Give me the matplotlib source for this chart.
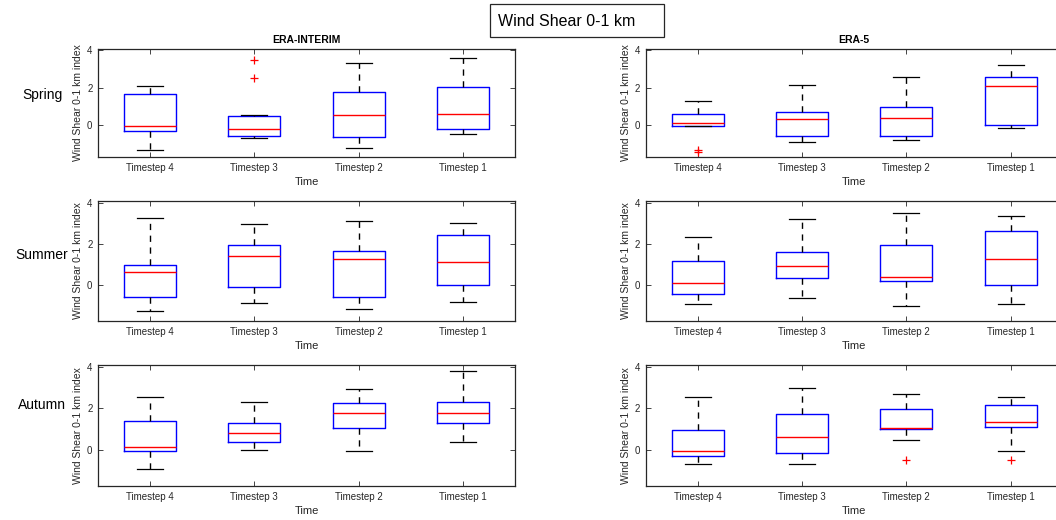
import matplotlib
matplotlib.use("Agg")
import matplotlib.pyplot as plt
from matplotlib.patches import Rectangle

plt.rcParams['font.family'] = ['Liberation Sans', 'DejaVu Sans']

timesteps = ["Timestep 4", "Timestep 3", "Timestep 2", "Timestep 1"]
seasons = ["Spring", "Summer", "Autumn"]
datasets = ["ERA-INTERIM", "ERA-5"]

# rows: lower whisker, Q1, median, Q3, upper whisker (one value per timestep)
spring_interim = [[-1.36, -0.68, -1.25, -0.50],
                  [-0.32, -0.57, -0.66, -0.20],
                  [-0.05, -0.20, 0.55, 0.59],
                  [1.68, 0.46, 1.75, 2.04],
                  [2.09, 0.54, 3.32, 3.57]]
spring_interim_out = [[], [3.50, 2.54], [], []]

spring_era5 = [[-0.05, -0.91, -0.79, -0.18],
               [-0.05, -0.59, -0.57, 0.00],
               [0.12, 0.32, 0.39, 2.07],
               [0.61, 0.71, 0.96, 2.55],
               [1.30, 2.16, 2.55, 3.23]]
spring_era5_out = [[-1.36, -1.45], [], [], []]

summer_interim = [[-1.24, -0.83, -1.12, -0.78],
                  [-0.57, -0.10, -0.55, 0.00],
                  [0.67, 1.41, 1.30, 1.14],
                  [1.01, 1.97, 1.64, 2.42],
                  [3.24, 2.96, 3.12, 3.02]]
summer_interim_out = [[], [], [], []]

summer_era5 = [[-0.91, -0.60, -1.01, -0.88],
               [-0.41, 0.34, 0.21, 0.00],
               [0.10, 0.96, 0.41, 1.27],
               [1.19, 1.63, 1.93, 2.65],
               [2.33, 3.22, 3.48, 3.35]]
summer_era5_out = [[], [], [], []]

autumn_interim = [[-0.91, 0.00, -0.02, 0.38],
                  [-0.02, 0.37, 1.08, 1.32],
                  [0.13, 0.80, 1.80, 1.80],
                  [1.40, 1.31, 2.25, 2.33],
                  [2.55, 2.33, 2.92, 3.81]]
autumn_interim_out = [[], [], [], []]

autumn_era5 = [[-0.67, -0.67, 0.49, -0.03],
               [-0.30, -0.14, 1.02, 1.10],
               [-0.05, 0.61, 1.07, 1.37],
               [0.96, 1.71, 1.99, 2.14],
               [2.55, 2.96, 2.68, 2.55]]
autumn_era5_out = [[], [], [-0.49], [-0.49]]

panels = [[(spring_interim, spring_interim_out), (spring_era5, spring_era5_out)],
          [(summer_interim, summer_interim_out), (summer_era5, summer_era5_out)],
          [(autumn_interim, autumn_interim_out), (autumn_era5, autumn_era5_out)]]

W, H = 1056, 520
fig = plt.figure(figsize=(W / 100, H / 100), dpi=100)

col_x = [98, 645.7]
col_w = 417
row_tb = [(49, 157), (201, 321), (365, 486)]
row_label_y = [95, 255, 405]
axcol = '#262626'

for r in range(3):
    top, bot = row_tb[r]
    for c in range(2):
        ax = fig.add_axes([col_x[c] / W, 1 - bot / H, col_w / W, (bot - top) / H])
        stats_rows, outl = panels[r][c]
        stats = []
        for i, lab in enumerate(timesteps):
            stats.append(dict(whislo=stats_rows[0][i], q1=stats_rows[1][i],
                              med=stats_rows[2][i], q3=stats_rows[3][i],
                              whishi=stats_rows[4][i], fliers=outl[i], label=lab))
        ax.bxp(stats, positions=[1, 2, 3, 4], widths=0.5, showfliers=True,
               boxprops=dict(color='#0000ff', linewidth=1.0),
               medianprops=dict(color='#ff0000', linewidth=1.0),
               whiskerprops=dict(color='black', linewidth=1.0, linestyle=(0, (4.5, 4))),
               capprops=dict(color='black', linewidth=0.9),
               capwidths=0.25,
               flierprops=dict(marker='+', markeredgecolor='#ff0000', markersize=6,
                               markeredgewidth=0.9, linestyle='none'))
        ax.set_xlim(0.5, 4.5)
        ax.set_ylim(-1.72, 4.08)
        ax.set_yticks([0, 2, 4])
        ax.set_xticks([1, 2, 3, 4])
        ax.set_xticklabels(timesteps)
        ax.tick_params(direction='in', top=True, right=True, length=3.5, width=0.6,
                       labelsize=7, colors=axcol, pad=4)
        for s in ax.spines.values():
            s.set_color(axcol)
            s.set_linewidth(0.9)
        ax.set_xlabel("Time", fontsize=8, color=axcol, labelpad=3)
        ax.set_ylabel("Wind Shear 0-1 km index", fontsize=7.5, color=axcol, labelpad=3)
        if r == 0:
            ax.set_title(datasets[c], fontsize=7.5, fontweight='bold', pad=4)
    fig.text(42 / W, 1 - row_label_y[r] / H, seasons[r], fontsize=10,
             ha='center', va='center')

fig.add_artist(Rectangle((490 / W, 1 - 37 / H), (664 - 490) / W, 33 / H,
                         transform=fig.transFigure, facecolor='white',
                         edgecolor='#262626', linewidth=0.9))
fig.text(498 / W, 1 - 21 / H, "Wind Shear 0-1 km", fontsize=11.5,
         ha='left', va='center')

fig.savefig("out.png", dpi=100)
